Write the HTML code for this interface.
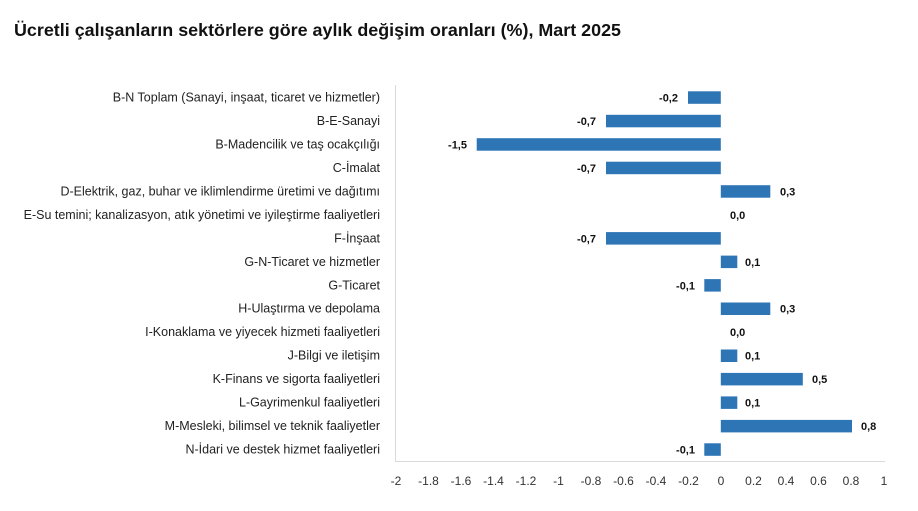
<!DOCTYPE html>
<html><head><meta charset="utf-8"><style>
html,body{margin:0;padding:0;background:#fff;}
svg{display:block;font-family:"Liberation Sans",sans-serif;}
.l{font-size:12.5px;fill:#222;text-anchor:end;}
.v{font-size:11px;font-weight:bold;fill:#111;}
.t{font-size:12px;fill:#333;text-anchor:middle;}
</style></head><body>
<svg width="918" height="511" viewBox="0 0 918 511">
<text x="14" y="36" font-size="17.5" font-weight="bold" fill="#111" textLength="607" lengthAdjust="spacingAndGlyphs">Ücretli çalışanların sektörlere göre aylık değişim oranları (%), Mart 2025</text>
<line x1="395.5" y1="85" x2="395.5" y2="461.5" stroke="#d9d9d9"/>
<line x1="395" y1="461.5" x2="885" y2="461.5" stroke="#d9d9d9"/>
<g>
<text class="t" x="396" y="485">-2</text><text class="t" x="428.5" y="485">-1.8</text><text class="t" x="461" y="485">-1.6</text><text class="t" x="493.5" y="485">-1.4</text><text class="t" x="526" y="485">-1.2</text><text class="t" x="558.5" y="485">-1</text><text class="t" x="591" y="485">-0.8</text><text class="t" x="623.5" y="485">-0.6</text><text class="t" x="656" y="485">-0.4</text><text class="t" x="688.5" y="485">-0.2</text><text class="t" x="721" y="485">0</text><text class="t" x="753.5" y="485">0.2</text><text class="t" x="786" y="485">0.4</text><text class="t" x="818.5" y="485">0.6</text><text class="t" x="851" y="485">0.8</text><text class="t" x="884" y="485">1</text>
</g>
<text class="l" x="380" y="101.5">B-N Toplam (Sanayi, inşaat, ticaret ve hizmetler)</text>
<text class="l" x="380" y="125">B-E-Sanayi</text>
<text class="l" x="380" y="148.4">B-Madencilik ve taş ocakçılığı</text>
<text class="l" x="380" y="171.9">C-İmalat</text>
<text class="l" x="380" y="195.4">D-Elektrik, gaz, buhar ve iklimlendirme üretimi ve dağıtımı</text>
<text class="l" x="380" y="218.8">E-Su temini; kanalizasyon, atık yönetimi ve iyileştirme faaliyetleri</text>
<text class="l" x="380" y="242.3">F-İnşaat</text>
<text class="l" x="380" y="265.8">G-N-Ticaret ve hizmetler</text>
<text class="l" x="380" y="289.3">G-Ticaret</text>
<text class="l" x="380" y="312.7">H-Ulaştırma ve depolama</text>
<text class="l" x="380" y="336.2">I-Konaklama ve yiyecek hizmeti faaliyetleri</text>
<text class="l" x="380" y="359.7">J-Bilgi ve iletişim</text>
<text class="l" x="380" y="383.1">K-Finans ve sigorta faaliyetleri</text>
<text class="l" x="380" y="406.6">L-Gayrimenkul faaliyetleri</text>
<text class="l" x="380" y="430.1">M-Mesleki, bilimsel ve teknik faaliyetler</text>
<text class="l" x="380" y="453.5">N-İdari ve destek hizmet faaliyetleri</text>
<g fill="#2e75b6">
<rect x="688" y="91.3" width="32.8" height="12.5"/>
<rect x="606" y="114.8" width="114.8" height="12.5"/>
<rect x="476.7" y="138.2" width="244.1" height="12.5"/>
<rect x="606" y="161.7" width="114.8" height="12.5"/>
<rect x="720.8" y="185.2" width="49.5" height="12.5"/>
<rect x="606" y="232.1" width="114.8" height="12.5"/>
<rect x="720.8" y="255.6" width="16.5" height="12.5"/>
<rect x="704.3" y="279.1" width="16.5" height="12.5"/>
<rect x="720.8" y="302.5" width="49.5" height="12.5"/>
<rect x="720.8" y="349.5" width="16.5" height="12.5"/>
<rect x="720.8" y="372.9" width="82" height="12.5"/>
<rect x="720.8" y="396.4" width="16.5" height="12.5"/>
<rect x="720.8" y="419.9" width="131.2" height="12.5"/>
<rect x="704.3" y="443.3" width="16.5" height="12.5"/>
</g>
<g class="v">
<text x="678" y="101.5" text-anchor="end">-0,2</text>
<text x="596" y="125" text-anchor="end">-0,7</text>
<text x="467" y="148.4" text-anchor="end">-1,5</text>
<text x="596" y="171.9" text-anchor="end">-0,7</text>
<text x="780" y="195.4">0,3</text>
<text x="730" y="218.8">0,0</text>
<text x="596" y="242.3" text-anchor="end">-0,7</text>
<text x="745" y="265.8">0,1</text>
<text x="695" y="289.3" text-anchor="end">-0,1</text>
<text x="780" y="312.7">0,3</text>
<text x="730" y="336.2">0,0</text>
<text x="745" y="359.7">0,1</text>
<text x="812" y="383.1">0,5</text>
<text x="745" y="406.6">0,1</text>
<text x="861" y="430.1">0,8</text>
<text x="695" y="453.5" text-anchor="end">-0,1</text>
</g>
</svg>
</body></html>
